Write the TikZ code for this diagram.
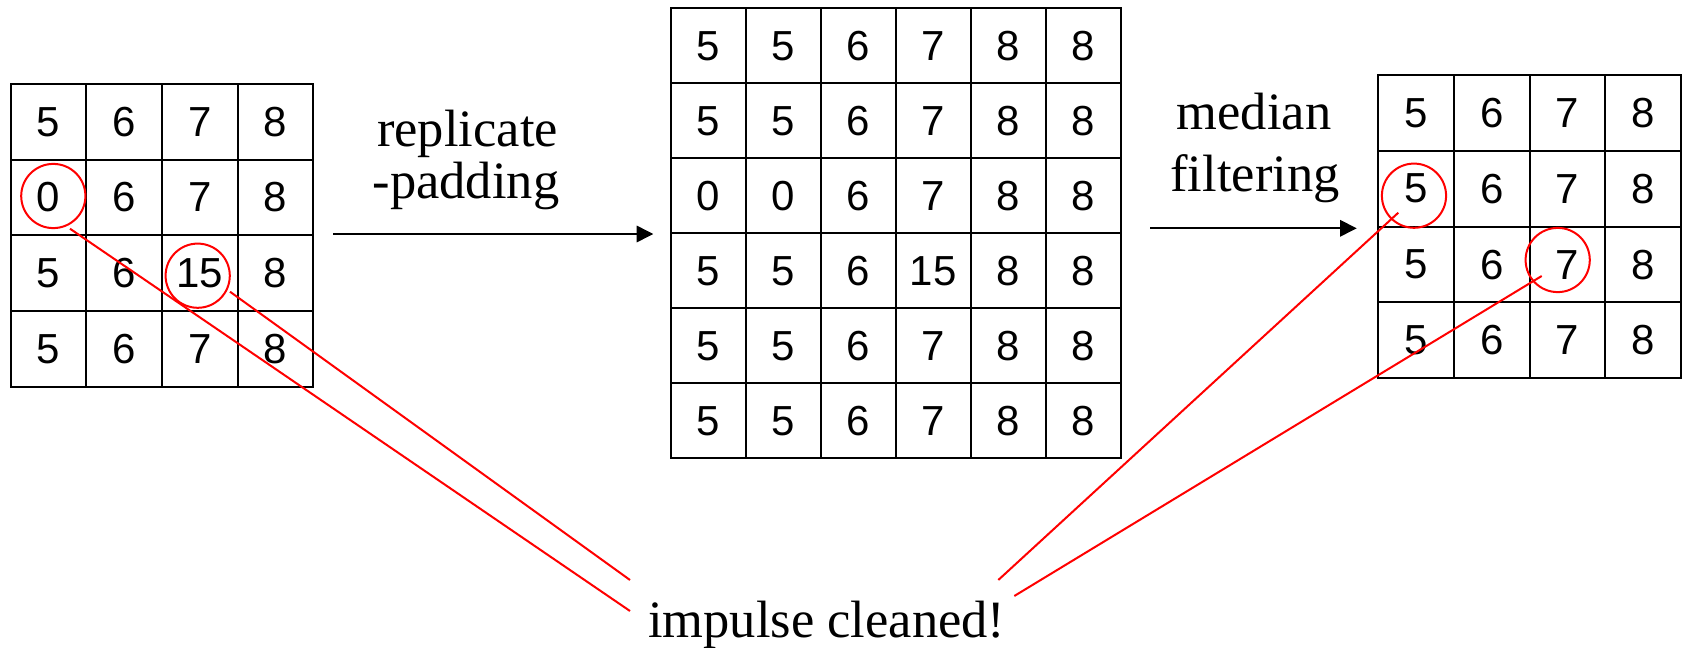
\documentclass[tikz,border=0pt]{standalone}
\usepackage{fontspec}
\setmainfont{Liberation Serif}
\newfontfamily\arialfont{Liberation Sans}
\usetikzlibrary{arrows.meta}
\begin{document}
\begin{tikzpicture}[x=0.5pt,y=-0.5pt,
  cell/.style={draw,line width=1pt,inner sep=0pt,font=\arialfont\fontsize{21}{21}\selectfont},
  ring/.style={draw=red,line width=1pt,circle,inner sep=0pt,minimum size=32.1pt},
  redline/.style={red,line width=1pt},
  arr/.style={line width=1pt,-{Triangle[length=8.3pt,width=8.2pt]}},
  lbl/.style={anchor=base,inner sep=0pt,font=\fontsize{26.25}{30}\selectfont}]
\useasboundingbox (0,0) rectangle (1683,648);

% left grid
\foreach \row [count=\r] in {{5,6,7,8},{0,6,7,8},{5,6,15,8},{5,6,7,8}}
  \foreach \v [count=\c] in \row
    \node[cell,minimum width=37.825pt,minimum height=37.825pt] (L-\r-\c)
      at ({10.7+75.65*(\c-0.5)},{84+75.65*(\r-0.5)}) {\v};

% middle grid
\foreach \row [count=\r] in {{5,5,6,7,8,8},{5,5,6,7,8,8},{0,0,6,7,8,8},{5,5,6,15,8,8},{5,5,6,7,8,8},{5,5,6,7,8,8}}
  \foreach \v [count=\c] in \row
    \node[cell,minimum width=37.475pt,minimum height=37.5pt] (M-\r-\c)
      at ({671+74.95*(\c-0.5)},{8.3+75*(\r-0.5)}) {\v};

% right grid
\foreach \row [count=\r] in {{5,6,7,8},{5,6,7,8},{5,6,7,8},{5,6,7,8}}
  \foreach \v [count=\c] in \row
    \node[cell,minimum width=37.8pt,minimum height=37.915pt] (R-\r-\c)
      at ({1378.3+75.6*(\c-0.5)},{75+75.83*(\r-0.5)}) {\v};

% labels
\node[lbl] (rep1) at (467.5,146.7) {replicate};
\node[lbl] (rep2) at (466,198.3) {-padding};
\node[lbl] (med1) at (1254,129) {median};
\node[lbl] (med2) at (1255,191.7) {filtering};
\node[lbl] (clean) at (826.7,637.3) {impulse cleaned!};

% arrows
\coordinate (a1s) at (333.3,234);
\coordinate (a1e) at (653.3,234);
\coordinate (a2s) at (1150,228.3);
\coordinate (a2e) at (1356.7,228.3);
\draw[arr] (a1s) -- (a1e);
\draw[arr] (a2s) -- (a2e);

% circles
\node[ring] (c0) at (53.3,196) {};
\node[ring] (c15) at (197.7,275.7) {};
\node[ring] (c5) at (1414,195.7) {};
\node[ring] (c7) at (1557.7,260) {};

% red connectors
\coordinate (s1) at (70,228.7);
\coordinate (s2) at (230,291.7);
\coordinate (s3) at (1398.3,212.7);
\coordinate (s4) at (1541.7,276);
\coordinate (e1) at (630,611);
\coordinate (e2) at (630,580);
\coordinate (e3) at (998.3,580);
\coordinate (e4) at (1014.3,596);
\draw[redline] (s1) -- (e1);
\draw[redline] (s2) -- (e2);
\draw[redline] (s3) -- (e3);
\draw[redline] (s4) -- (e4);
\end{tikzpicture}
\end{document}
